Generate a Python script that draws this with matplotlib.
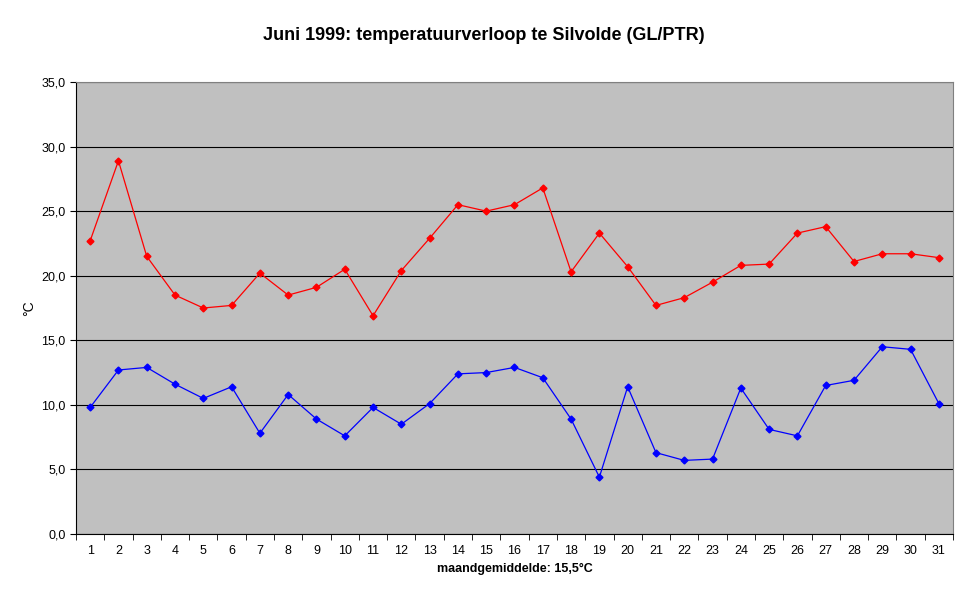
import matplotlib
matplotlib.use("Agg")
import matplotlib.pyplot as plt

days = list(range(1, 32))
tmax = [22.7, 28.9, 21.5, 18.5, 17.5, 17.7, 20.2, 18.5, 19.1, 20.5, 16.9, 20.4, 22.9, 25.5, 25.0, 25.5,
        26.8, 20.3, 23.3, 20.7, 17.7, 18.3, 19.5, 20.8, 20.9, 23.3, 23.8, 21.1, 21.7, 21.7, 21.4]
tmin = [9.8, 12.7, 12.9, 11.6, 10.5, 11.4, 7.8, 10.8, 8.9, 7.6, 9.8, 8.5, 10.1, 12.4, 12.5, 12.9,
        12.1, 8.9, 4.4, 11.4, 6.3, 5.7, 5.8, 11.3, 8.1, 7.6, 11.5, 11.9, 14.5, 14.3, 10.1]
yticks = [0, 5, 10, 15, 20, 25, 30, 35]

plt.rcParams['font.family'] = ['Liberation Sans', 'DejaVu Sans']
fig = plt.figure(figsize=(9.68, 6.04), dpi=100)
ax = fig.add_axes([76/968, 1-534/604, 877/968, 452/604])
ax.set_facecolor('#C0C0C0')
ax.plot(days, tmax, color='red', lw=0.9, marker='D', ms=3.5)
ax.plot(days, tmin, color='blue', lw=0.9, marker='D', ms=3.5)
ax.set_xlim(0.5, 31.5)
ax.set_ylim(0, 35)
ax.set_yticks(yticks)
ax.set_yticklabels([f"{v:.1f}".replace('.', ',') for v in yticks], fontsize=9)
ax.set_xticks(days)
ax.set_xticklabels([str(d) for d in days], fontsize=9)
ax.set_xticks([d + 0.5 for d in range(0, 32)], minor=True)
ax.tick_params(axis='x', which='major', length=0, pad=8)
ax.tick_params(axis='x', which='minor', length=4, direction='out')
ax.tick_params(axis='y', length=4)
ax.grid(axis='y', color='black', lw=0.8)
ax.set_axisbelow(True)
for s in ax.spines.values():
    s.set_color('#808080')
ax.spines['left'].set_color('black')
ax.spines['bottom'].set_color('black')
ax.set_ylabel('°C', fontsize=10)
ax.set_xlabel('maandgemiddelde: 15,5°C', fontsize=9, fontweight='bold')
fig.suptitle('Juni 1999: temperatuurverloop te Silvolde (GL/PTR)', fontsize=13, fontweight='bold', y=0.955)
fig.savefig('out.png', dpi=100)
